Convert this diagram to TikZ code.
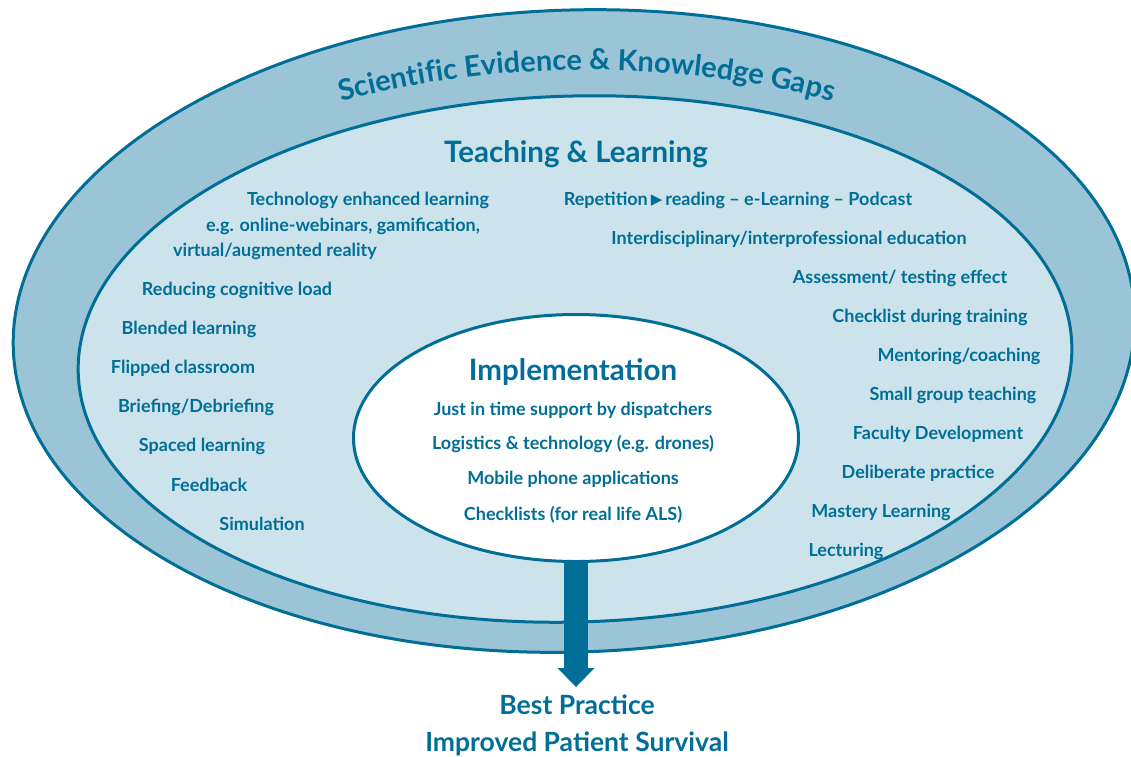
\documentclass[tikz,border=0pt]{standalone}
\usepackage{fontspec}
\setmainfont{Lato}
\newfontfamily\symfont{DejaVu Sans}
\usepackage{tikz}
\usetikzlibrary{shapes.geometric, arrows.meta, decorations.text}

\definecolor{navy}{HTML}{006E96}
\definecolor{bandblue}{HTML}{9BC5D7}
\definecolor{paleblue}{HTML}{CCE3EB}

\begin{document}
\begin{tikzpicture}[x=1pt, y=-1pt,
    ring/.style={ellipse, draw=navy, line width=3pt, inner sep=0pt},
    item/.style={text=navy, inner sep=0pt, font=\bfseries\fontsize{18}{21}\selectfont},
    head/.style={text=navy, inner sep=0pt, font=\bfseries\fontsize{29.5}{34}\selectfont},
    goal/.style={text=navy, inner sep=0pt, font=\bfseries\fontsize{26.5}{31}\selectfont}]
    \useasboundingbox (0, 0) rectangle (1131, 756);

    % rings
    \node[ring, fill=bandblue, rotate=1.8, minimum width=1122pt, minimum height=642pt] at (574, 331) (evidence) {};
    \node[ring, fill=paleblue, rotate=1.6, minimum width=994pt, minimum height=526pt] at (575, 359) (teaching) {};
    \coordinate (target) at (576, 687);
    \draw[navy, line width=24pt, -{Triangle[width=37pt, length=19pt, line width=0pt]}] (576, 550) -- (target);
    \node[ring, fill=white, minimum width=445pt, minimum height=247pt] at (576, 438) (impl) {};

    % curved title
    \path[decorate, decoration={text along path, text align=center, text color=navy,
        text={|\bfseries\fontsize{29}{34}\selectfont|Scientific Evidence {\&} Knowledge Gaps}}]
        (587, 345) ++(200:529 and 275) arc[start angle=200, end angle=340, x radius=529, y radius=275];

    % headings
    \node[head] at (576, 154) (tl) {Teaching \& Learning};
    \node[head] at (573, 372) (imp) {Implementation};

    % left column
    \node[item] at (368, 200) (tech) {Technology enhanced learning};
    \node[item] at (343, 226) (webinar) {e.g. online-webinars, gamification,};
    \node[item] at (275, 251) (virtual) {virtual/augmented reality};
    \node[item] at (237, 290) (cogload) {Reducing cognitive load};
    \node[item] at (189, 329) (blended) {Blended learning};
    \node[item] at (183, 368) (flipped) {Flipped classroom};
    \node[item] at (196, 407) (briefing) {Briefing/Debriefing};
    \node[item] at (202, 446) (spaced) {Spaced learning};
    \node[item] at (209, 485) (feedback) {Feedback};
    \node[item] at (262, 524) (sim) {Simulation};

    % right column
    \node[item] at (738, 200) (repeat) {Repetition\,\raisebox{0.5pt}{\symfont\fontsize{15}{15}\selectfont ▶}\,reading – e-Learning – Podcast};
    \node[item] at (789, 239) (interdis) {Interdisciplinary/interprofessional education};
    \node[item] at (900, 278) (assess) {Assessment/ testing effect};
    \node[item] at (930, 317) (checktrain) {Checklist during training};
    \node[item] at (959, 356) (mentor) {Mentoring/coaching};
    \node[item] at (953, 395) (smallgrp) {Small group teaching};
    \node[item] at (938, 434) (faculty) {Faculty Development};
    \node[item] at (918, 473) (deliberate) {Deliberate practice};
    \node[item] at (881, 512) (mastery) {Mastery Learning};
    \node[item] at (846, 551) (lecture) {Lecturing};

    % implementation
    \node[item] at (573, 410) (dispatch) {Just in time support by dispatchers};
    \node[item] at (573, 444) (logistics) {Logistics \& technology (e.g. drones)};
    \node[item] at (573, 479) (mobile) {Mobile phone applications};
    \node[item] at (573, 515) (checkals) {Checklists (for real life ALS)};

    % outcome
    \node[goal] at (577, 705) (best) {Best Practice};
    \node[goal] at (577, 744) (survival) {Improved Patient Survival};
\end{tikzpicture}
\end{document}
